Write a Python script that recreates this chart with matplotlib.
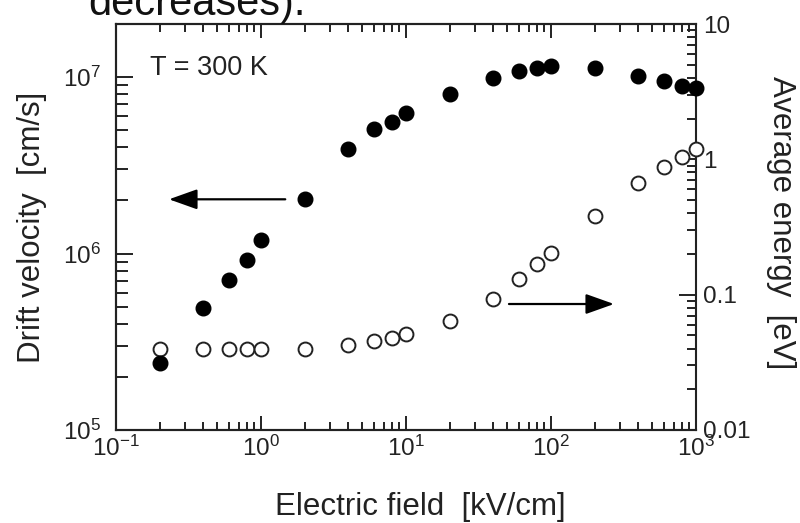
import matplotlib
matplotlib.use("Agg")
import matplotlib.pyplot as plt
from matplotlib.ticker import LogLocator, FixedLocator, FixedFormatter, NullFormatter

plt.rcParams['font.family'] = ['Liberation Sans', 'DejaVu Sans']
plt.rcParams['mathtext.fontset'] = 'custom'
plt.rcParams['mathtext.rm'] = 'Liberation Sans'
plt.rcParams['mathtext.it'] = 'Liberation Sans'
plt.rcParams['mathtext.default'] = 'regular'

# Electric field [kV/cm]
field = [0.2, 0.4, 0.6, 0.8, 1, 2, 4, 6, 8, 10, 20, 40, 60, 80, 100,
         200, 400, 600, 800, 1000]
# Drift velocity [cm/s]
velocity = [2.39e5, 4.93e5, 7.08e5, 9.18e5, 1.20e6, 2.04e6, 3.91e6, 5.06e6,
            5.58e6, 6.28e6, 7.98e6, 9.84e6, 1.09e7, 1.13e7, 1.16e7, 1.13e7,
            1.01e7, 9.46e6, 8.9e6, 8.63e6]
# Average energy [eV]
energy = [0.0395, 0.0395, 0.0395, 0.0395, 0.0395, 0.0395, 0.0425, 0.0455,
          0.048, 0.0513, 0.0643, 0.093, 0.130, 0.168, 0.202, 0.382, 0.665,
          0.883, 1.035, 1.19]

x_ticks = [0.1, 1, 10, 100, 1000]
x_ticklabels = [r'$10^{-1}$', r'$10^{0}$', r'$10^{1}$', r'$10^{2}$', r'$10^{3}$']
v_ticks = [1e5, 1e6, 1e7]
v_ticklabels = [r'$10^{5}$', r'$10^{6}$', r'$10^{7}$']
e_ticks = [0.01, 0.1, 1, 10]
e_ticklabels = ['0.01', '0.1', '1', '10']

txt = '#222222'
fig = plt.figure(figsize=(8.0, 5.23), dpi=100)
ax = fig.add_axes([116/800, 1 - 430/523, 580/800, 406/523])
ax2 = ax.twinx()
ax.set_zorder(ax2.get_zorder() + 1)
ax.patch.set_visible(False)

ax.set_xscale('log')
ax.set_yscale('log')
ax2.set_yscale('log')
ax.set_xlim(0.1, 1000)
ax.set_ylim(1e5, 2e7)
ax2.set_ylim(0.01, 10)

# open circles: average energy (right axis)
ax2.plot(field, energy, linestyle='none', marker='o', markersize=10,
         markerfacecolor='white', markeredgecolor='#222222',
         markeredgewidth=1.4, clip_on=False, zorder=3)
# filled circles: drift velocity (left axis)
ax.plot(field, velocity, linestyle='none', marker='o', markersize=10.5,
        markerfacecolor='black', markeredgecolor='black', clip_on=False,
        zorder=3)

# axis styling
for a in (ax, ax2):
    for s in a.spines.values():
        s.set_linewidth(1.5)
        s.set_color('#222222')
ax.spines['right'].set_visible(False)

ax.xaxis.set_major_locator(FixedLocator(x_ticks))
ax.xaxis.set_major_formatter(FixedFormatter(x_ticklabels))
ax.xaxis.set_minor_locator(LogLocator(base=10, subs=range(2, 10), numticks=20))
ax.xaxis.set_minor_formatter(NullFormatter())
ax.yaxis.set_major_locator(FixedLocator(v_ticks))
ax.yaxis.set_major_formatter(FixedFormatter(v_ticklabels))
ax.yaxis.set_minor_locator(LogLocator(base=10, subs=range(2, 10), numticks=20))
ax.yaxis.set_minor_formatter(NullFormatter())
ax2.yaxis.set_major_locator(FixedLocator(e_ticks))
ax2.yaxis.set_major_formatter(FixedFormatter(e_ticklabels))
ax2.yaxis.set_minor_locator(LogLocator(base=10, subs=range(2, 10), numticks=20))
ax2.yaxis.set_minor_formatter(NullFormatter())

ax.tick_params(axis='x', which='both', direction='in', top=True, bottom=True,
               width=1.4, color='#222222', labelsize=17.5, labelcolor=txt)
ax.tick_params(axis='x', which='major', length=10, pad=4)
ax.tick_params(axis='x', which='minor', length=6)
ax.tick_params(axis='y', which='both', direction='in', left=True, right=False,
               width=1.4, color='#222222', labelsize=17.5, labelcolor=txt)
ax.tick_params(axis='y', which='major', length=12, pad=11)
ax.tick_params(axis='y', which='minor', length=8.5)
ax2.tick_params(axis='y', which='both', direction='in', right=True, left=False,
                width=1.4, color='#222222', labelsize=17.5, labelcolor=txt)
ax2.tick_params(axis='y', which='major', length=12, pad=5)
ax2.tick_params(axis='y', which='minor', length=6.5)

# axis labels
ax.set_xlabel('Electric field  [kV/cm]', fontsize=22.5, color=txt, va='baseline')
ax.xaxis.set_label_coords(0.524, -0.210)
ax.set_ylabel('Drift velocity  [cm/s]', fontsize=22.5, color=txt, va='center')
ax.yaxis.set_label_coords(-0.144, 0.5)
ax2.set_ylabel('Average energy  [eV]', fontsize=22.5, color=txt, rotation=270,
               va='center')
ax2.yaxis.set_label_coords(1.146, 0.51)

ax.text(0.0586, 0.874, 'T = 300 K', transform=ax.transAxes, fontsize=19.5,
        color=txt, va='baseline', ha='left')

# arrows pointing to the relevant axis
arrow = dict(arrowstyle='-|>,head_length=0.87,head_width=0.31', color='black',
             lw=1.6, shrinkA=0, shrinkB=0, mutation_scale=20)
ax.annotate('', xy=(0.232, 2.03e6), xytext=(1.47, 2.03e6), arrowprops=arrow)
ax2.annotate('', xy=(272, 0.0853), xytext=(51.3, 0.0853), arrowprops=arrow)

# trailing caption line
fig.text(88/800, 1 - 15/523, 'decreases).', fontsize=30, color='#111111',
         ha='left', va='baseline')

fig.savefig('out.png', dpi=100)
